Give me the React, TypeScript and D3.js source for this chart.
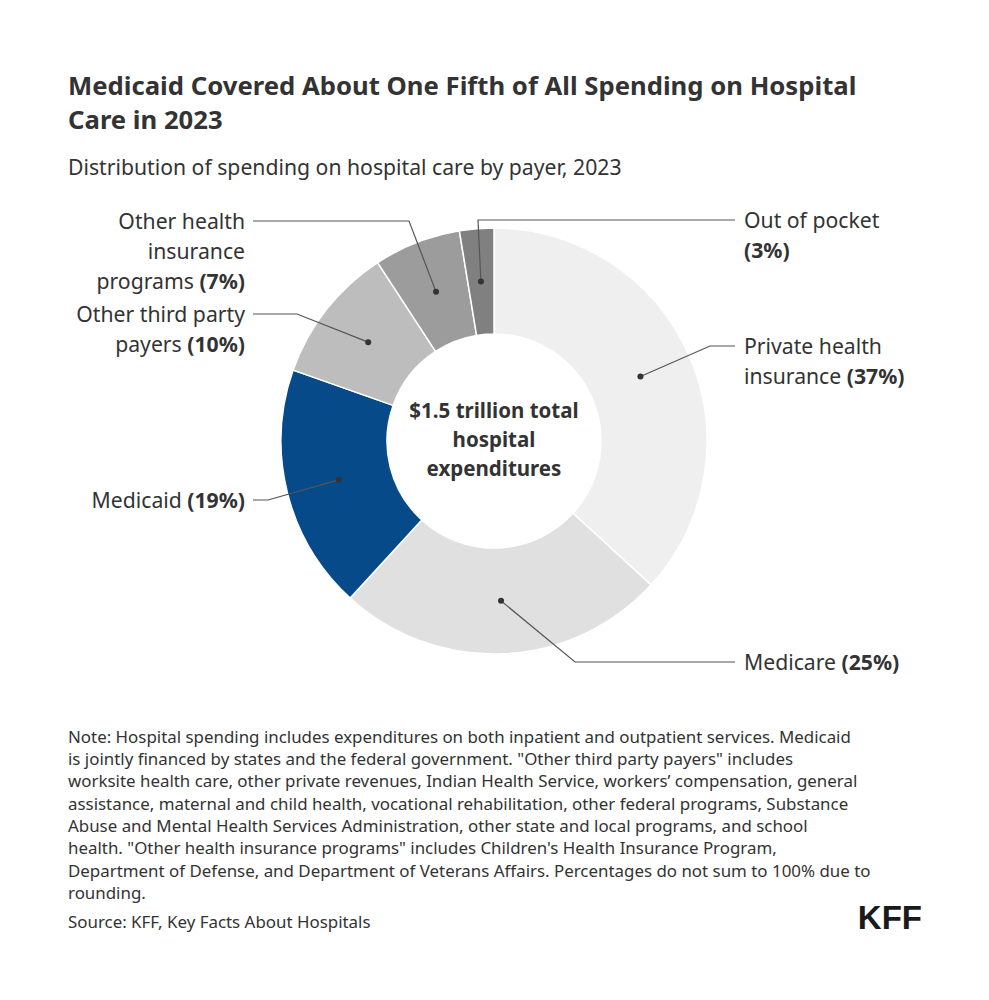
import { useEffect } from 'react';
import * as d3 from 'd3';

// Data
const payers = [
  'Private health insurance',
  'Medicare',
  'Medicaid',
  'Other third party payers',
  'Other health insurance programs',
  'Out of pocket',
];
const shares = [36.8, 25.0, 18.6, 10.4, 6.6, 2.6];
const sliceColors = ['#efefef', '#e0e0e0', '#064a8a', '#bdbdbd', '#9c9c9c', '#808080'];
const labelLines = [
  ['Private health', 'insurance'],
  ['Medicare'],
  ['Medicaid'],
  ['Other third party', 'payers'],
  ['Other health', 'insurance', 'programs'],
  ['Out of pocket', ''],
];
// label placement relative to the donut centre: side, y of leader line, x of elbow
const labelSide = ['right', 'right', 'left', 'left', 'left', 'right'];
const labelLineY = [-95, 221, 59, -127, -220, -221];
const labelElbowX = [216, 81, -226, -197, -85, -16];

const centerLines = ['$1.5 trillion total', 'hospital', 'expenditures'];
const noteLines = [
  'Note: Hospital spending includes expenditures on both inpatient and outpatient services. Medicaid',
  'is jointly financed by states and the federal government. "Other third party payers" includes',
  'worksite health care, other private revenues, Indian Health Service, workers\u2019 compensation, general',
  'assistance, maternal and child health, vocational rehabilitation, other federal programs, Substance',
  'Abuse and Mental Health Services Administration, other state and local programs, and school',
  'health. "Other health insurance programs" includes Children\'s Health Insurance Program,',
  'Department of Defense, and Department of Veterans Affairs. Percentages do not sum to 100% due to',
  'rounding.',
];

const W = 989;
const H = 1000;
const FONT = "'Noto Sans', 'Source Sans Pro', sans-serif";
const TEXT = '#333333';
const LABEL_SIZE = 21.2;

export default function App() {
  useEffect(() => {
    document.body.style.margin = '0';
  }, []);

  const cx = 494;
  const cy = 441;
  const outerR = 213;
  const innerR = 107;

  const pie = d3
    .pie<number>()
    .value((d) => d)
    .sort(null);
  const arcs = pie(shares);
  const arc = d3.arc<d3.PieArcDatum<number>>().innerRadius(innerR).outerRadius(outerR);

  return (
    <svg width={W} height={H} style={{ display: 'block', background: '#fff' }} fontFamily={FONT}>
      <rect width={W} height={H} fill="#fff" />

      {/* Title */}
      <text x={68} y={95} fontSize={25.7} fontWeight={700} fill={TEXT}>
        Medicaid Covered About One Fifth of All Spending on Hospital
      </text>
      <text x={68} y={129} fontSize={25.7} fontWeight={700} fill={TEXT}>
        Care in 2023
      </text>
      <text x={68} y={175} fontSize={21.2} fill={TEXT}>
        Distribution of spending on hospital care by payer, 2023
      </text>

      {/* Donut */}
      <g transform={`translate(${cx},${cy})`}>
        {arcs.map((a, i) => (
          <path key={payers[i]} d={arc(a) ?? ''} fill={sliceColors[i]} stroke="#fff" strokeWidth={1.5} />
        ))}

        {arcs.map((a, i) => {
          const [px, py] = arc.centroid(a);
          const side = labelSide[i];
          const ly = labelLineY[i];
          const ex = labelElbowX[i];
          const endX = side === 'right' ? 241 : -241;
          const textX = side === 'right' ? 250 : -249;
          const lines = labelLines[i];
          const pct = `(${Math.round(shares[i])}%)`;
          return (
            <g key={`lbl-${payers[i]}`}>
              <polyline
                points={`${px},${py} ${ex},${ly} ${endX},${ly}`}
                fill="none"
                stroke="#555"
                strokeWidth={1.2}
              />
              <circle cx={px} cy={py} r={3} fill="#333" />
              <text
                x={textX}
                y={ly + 8}
                fontSize={LABEL_SIZE}
                fill={TEXT}
                textAnchor={side === 'right' ? 'start' : 'end'}
              >
                {lines.map((ln, j) => (
                  <tspan key={j} x={textX} dy={j === 0 ? 0 : 30}>
                    {ln}
                    {j === lines.length - 1 ? (
                      <tspan fontWeight={700}>{ln ? ` ${pct}` : pct}</tspan>
                    ) : null}
                  </tspan>
                ))}
              </text>
            </g>
          );
        })}

        <text textAnchor="middle" fontSize={20.5} fontWeight={700} fill={TEXT}>
          {centerLines.map((ln, j) => (
            <tspan key={ln} x={0} y={-23 + j * 29}>
              {ln}
            </tspan>
          ))}
        </text>
      </g>

      {/* Notes */}
      <text fontSize={16.9} fill={TEXT}>
        {noteLines.map((ln, j) => (
          <tspan key={j} x={68} y={742.5 + j * 22.35}>
            {ln}
          </tspan>
        ))}
      </text>
      <text x={68} y={927.5} fontSize={16.9} fill={TEXT}>
        Source: KFF, Key Facts About Hospitals
      </text>

      {/* Logo */}
      <text
        x={922}
        y={929}
        textAnchor="end"
        fontSize={33}
        fontWeight={900}
        fontFamily="'Liberation Sans', Arial, sans-serif"
        fill="#1a1a1a"
      >
        KFF
      </text>
    </svg>
  );
}
